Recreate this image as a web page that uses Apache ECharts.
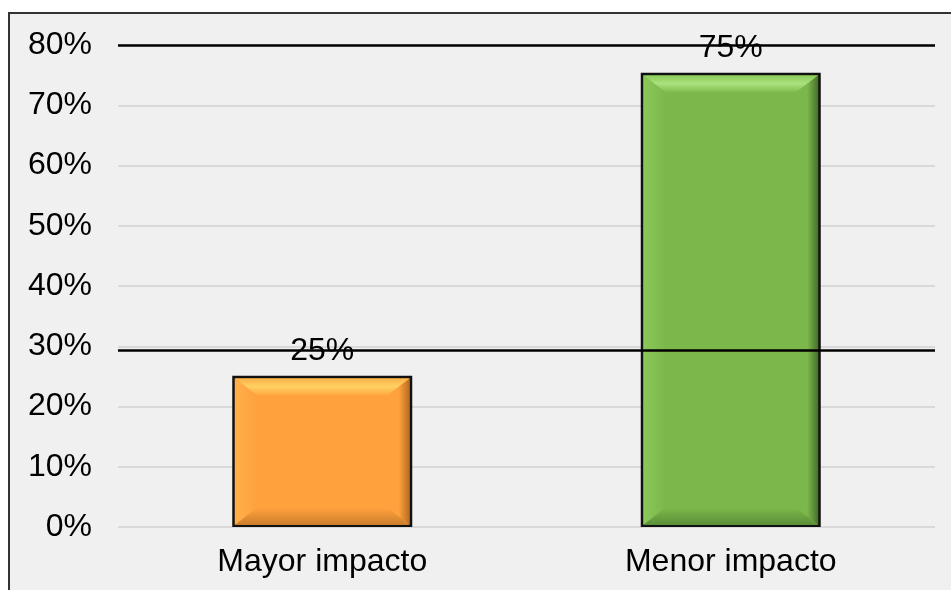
<!DOCTYPE html>
<html>
<head>
<meta charset="utf-8">
<script src="https://cdn.jsdelivr.net/npm/echarts@6/dist/echarts.min.js"></script>
<style>
  html, body { margin: 0; padding: 0; background: #ffffff; }
  #frame {
    position: absolute;
    left: 8px;
    top: 12px;
    width: 960px;
    height: 600px;
    border: 2px solid #333;
    background: #f0f0f0;
  }
  #chart {
    position: absolute;
    left: 0;
    top: 0;
    width: 951px;
    height: 590px;
  }
</style>
</head>
<body>
<div id="frame"></div>
<div id="chart"></div>
<script>
// data
const categories = ['Mayor impacto', 'Menor impacto'];
const percentValues = [25.1, 75.4];
const yTicks = [0, 10, 20, 30, 40, 50, 60, 70, 80];
const blackLineValues = [80, 29.3];

// bevel colours: [main, topOuter, topMid, topInner, leftEdge, rightEdge, bottomEdge]
const palette = [
  ['#FFA13C', '#FFB347', '#FFD063', '#FFA83F', '#FFB04A', '#B56C24', '#CC7E2C'],
  ['#7BB74A', '#8CCB58', '#AAE27F', '#80BC4D', '#8BC85A', '#476F2C', '#5A9038']
];

let chart = echarts.init(document.getElementById('chart'));
const FONT = '"Liberation Sans", Arial, sans-serif';
const BAR_W = 180;

function lin(x1, y1, x2, y2, stops) {
  return new echarts.graphic.LinearGradient(x1, y1, x2, y2,
    stops.map((c, i) => ({ offset: i / (stops.length - 1), color: c })));
}

let option = {
  animation: false,
  backgroundColor: 'transparent',
  grid: {
    left: 118,
    right: 16,
    top: 45,
    bottom: 63,
    containLabel: false,
    outerBoundsMode: 'none'
  },
  xAxis: {
    type: 'category',
    data: categories,
    axisLine: { show: false },
    axisTick: { show: false },
    axisLabel: {
      color: '#000',
      fontFamily: FONT,
      fontSize: 32,
      margin: 19
    }
  },
  yAxis: {
    type: 'value',
    min: yTicks[0],
    max: yTicks[yTicks.length - 1],
    interval: 10,
    axisLine: { show: false },
    axisTick: { show: false },
    splitLine: { lineStyle: { color: '#d9d9d9', width: 2 } },
    axisLabel: {
      color: '#000',
      fontFamily: FONT,
      fontSize: 32,
      margin: 26,
      formatter: '{value}%'
    }
  },
  series: [{
    type: 'bar',
    barWidth: BAR_W,
    z: 2,
    data: percentValues.map((v, i) => ({
      value: v,
      itemStyle: { color: palette[i][0] }
    })),
    itemStyle: { borderColor: '#111', borderWidth: 3 },
    label: {
      show: true,
      position: 'top',
      distance: 9,
      color: '#000',
      fontFamily: FONT,
      fontSize: 32,
      formatter: p => Math.round(p.value) + '%'
    },
    markLine: {
      silent: true,
      symbol: 'none',
      z: 10,
      label: { show: false },
      lineStyle: { color: '#000', width: 2.5, type: 'solid' },
      data: blackLineValues.map(v => ({ yAxis: v }))
    }
  }, {
    // bevel shading on top of the bars
    type: 'custom',
    z: 3,
    silent: true,
    data: percentValues.map((v, i) => [i, v]),
    renderItem: function (params, api) {
      const i = api.value(0);
      const c = palette[i];
      const top = api.coord([i, api.value(1)]);
      const base = api.coord([i, 0]);
      const x0 = top[0] - BAR_W / 2 + 2.5, x1 = top[0] + BAR_W / 2 - 2.5;
      const y0 = top[1] + 2.5, y1 = base[1] - 2;
      const b = 22, bv = 17;
      return {
        type: 'group',
        children: [{
          type: 'polygon',
          shape: { points: [[x0, y0], [x1, y0], [x1 - b, y0 + bv], [x0 + b, y0 + bv]] },
          style: { fill: lin(0, 0, 0, 1, [c[1], c[2], c[3]]) }
        }, {
          type: 'polygon',
          shape: { points: [[x0, y0], [x0 + b, y0 + bv], [x0 + b, y1 - bv], [x0, y1]] },
          style: { fill: lin(0, 0, 1, 0, [c[4], c[0]]) }
        }, {
          type: 'polygon',
          shape: { points: [[x1, y0], [x1 - b, y0 + bv], [x1 - b, y1 - bv], [x1, y1]] },
          style: { fill: lin(0, 0, 1, 0, [c[0], c[0], c[5]]) }
        }, {
          type: 'polygon',
          shape: { points: [[x0, y1], [x1, y1], [x1 - b, y1 - bv], [x0 + b, y1 - bv]] },
          style: { fill: lin(0, 0, 0, 1, [c[0], c[6]]) }
        }]
      };
    }
  }]
};

chart.setOption(option);
</script>
</body>
</html>
